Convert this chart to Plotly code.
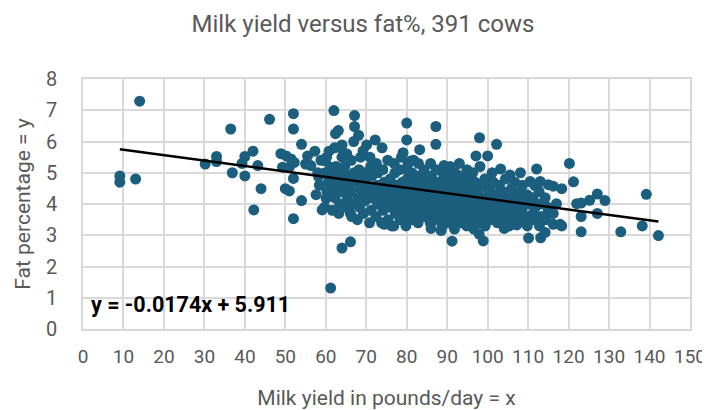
import plotly.graph_objects as go

# ---- outlying / readable points (milk yield lb/day, fat %) ----
edge_milk = [
    9.1, 9.1, 13.0, 14.0, 30.2, 33.0, 33.0, 36.5, 36.9, 39.3,
    40.0, 40.0, 42.0, 43.2, 44.0, 42.2, 46.1, 48.9, 49.3, 50.0,
    50.2, 51.0, 51.0, 51.4, 52.0, 52.0, 52.0, 52.0, 52.2, 54.0,
    54.0, 55.0, 55.5, 56.3, 57.3, 58.2, 59.1, 59.9, 60.1, 60.8,
    61.2, 61.2, 62.0, 62.4, 63.1, 63.2, 64.0, 64.4, 64.0, 66.1,
    66.1, 67.1, 67.1, 68.1, 70.1, 72.2, 79.1, 80.0, 80.0, 81.0,
    83.2, 86.0, 87.2, 87.2, 88.5, 89.2, 91.2, 93.0, 96.6, 97.1,
    97.9, 98.0, 98.9, 100.0, 102.2, 103.2, 104.1, 105.5, 107.2, 108.1,
    108.1, 110.1, 110.5, 111.3, 112.1, 113.0, 113.1, 114.2, 115.0, 115.0,
    116.2, 116.2, 116.2, 117.0, 117.9, 118.3, 118.3, 120.2, 121.2, 122.0,
    123.1, 123.1, 123.1, 125.2, 127.1, 127.1, 129.0, 132.9, 138.2, 139.2,
    142.2, 76.3, 74.5,
]
edge_fat = [
    4.90, 4.70, 4.80, 7.29, 5.28, 5.52, 5.36, 6.40, 5.00, 5.30,
    4.90, 5.52, 5.69, 5.23, 4.49, 3.81, 6.71, 5.61, 5.18, 4.49,
    5.54, 5.18, 4.42, 5.44, 6.89, 6.40, 4.82, 3.53, 5.33, 5.91,
    4.11, 5.28, 5.54, 5.23, 5.69, 4.88, 3.81, 5.38, 4.18, 5.69,
    5.18, 1.31, 6.99, 6.25, 6.35, 3.70, 5.89, 5.64, 2.59, 2.79,
    3.70, 6.83, 6.48, 6.20, 5.89, 6.05, 5.64, 6.59, 6.05, 5.38,
    5.74, 3.22, 6.48, 5.91, 3.15, 5.23, 2.81, 5.30, 3.20, 5.54,
    3.04, 6.12, 2.82, 5.54, 5.91, 5.12, 3.22, 4.93, 3.33, 5.00,
    3.50, 2.91, 4.72, 3.70, 5.12, 4.72, 2.92, 3.09, 4.62, 3.76,
    4.57, 3.70, 3.35, 4.01, 3.35, 4.49, 3.30, 5.30, 4.71, 4.01,
    4.03, 3.60, 3.11, 4.12, 4.32, 3.70, 4.11, 3.11, 3.30, 4.31,
    2.99, 3.30, 3.35,
]

# ---- dense central cloud (estimated column by column) ----
core_milk = [
    57.6, 58.4, 58.0, 58.8,
    59.7, 60.3, 60.6, 59.8, 60.2,
    61.6, 62.3, 62.0, 61.8, 62.5, 62.2,
    63.4, 63.8, 63.2, 63.6, 64.0,
    64.8, 65.3, 65.0, 65.5, 64.7, 65.2,
    66.4, 66.8, 66.2, 66.6, 67.0, 66.3, 66.9,
    67.8, 68.3, 68.0, 68.5, 67.9, 68.2, 68.6,
    69.3, 69.7, 69.4, 69.9, 69.6, 69.2,
    70.8, 71.2, 71.0, 70.7, 71.4, 71.1, 70.9,
    72.4, 72.8, 72.3, 72.6, 72.9, 72.5,
    73.8, 74.2, 74.0, 73.7, 74.4, 74.1, 73.9,
    75.4, 75.8, 75.2, 75.6, 75.9, 75.3,
    76.8, 77.2, 77.0, 76.7, 77.3, 77.1, 76.9,
    78.4, 78.8, 78.2, 78.6, 78.9, 78.3, 78.7,
    79.8, 80.2, 80.0, 79.7, 80.4, 80.1, 79.9, 80.3,
    81.4, 81.8, 81.2, 81.6, 81.9, 81.3, 81.7,
    82.8, 83.2, 83.0, 82.7, 83.4, 83.1, 82.9,
    84.4, 84.8, 84.2, 84.6, 84.9, 84.3,
    85.8, 86.2, 86.0, 85.7, 86.4, 86.1, 85.9,
    87.4, 87.8, 87.2, 87.6, 87.9, 87.3,
    88.8, 89.2, 89.0, 88.7, 89.4, 89.1, 88.9,
    90.4, 90.8, 90.2, 90.6, 90.9, 90.3, 90.7,
    91.8, 92.2, 92.0, 91.7, 92.4, 92.1, 91.9,
    93.4, 93.8, 93.2, 93.6, 93.9, 93.3,
    94.8, 95.2, 95.0, 94.7, 95.4, 95.1, 94.9,
    96.4, 96.8, 96.2, 96.6, 96.9, 96.3,
    97.8, 98.2, 98.0, 97.7, 98.4, 98.1,
    99.4, 99.8, 99.2, 99.6, 99.9, 99.3,
    100.8, 101.2, 101.0, 100.7, 101.4, 101.1,
    102.4, 102.8, 102.2, 102.6, 102.9,
    103.8, 104.2, 104.0, 103.7, 104.4,
    105.4, 105.8, 105.2, 105.6, 105.9,
    106.8, 107.2, 107.0, 106.7,
    108.4, 108.8, 108.2, 108.6,
    109.8, 110.2, 110.0, 109.7,
    111.4, 111.8, 111.2, 111.6,
    112.8, 113.2, 113.0, 112.7,
    114.4, 114.8, 114.2,
]
core_fat = [
    4.3, 4.6, 5.0, 5.4,
    3.9, 4.4, 4.7, 5.0, 5.5,
    3.8, 4.2, 4.5, 4.9, 5.2, 5.8,
    4.0, 4.4, 4.7, 5.0, 5.5,
    3.9, 4.2, 4.6, 4.9, 5.2, 5.6,
    3.6, 4.0, 4.4, 4.7, 5.0, 5.4, 6.0,
    3.5, 3.9, 4.2, 4.5, 4.8, 5.1, 5.5,
    3.7, 4.1, 4.4, 4.7, 5.0, 5.7,
    3.4, 3.8, 4.2, 4.5, 4.9, 5.2, 5.5,
    3.6, 4.0, 4.3, 4.6, 5.0, 5.3,
    3.4, 3.8, 4.1, 4.4, 4.7, 5.1, 5.8,
    3.5, 3.9, 4.2, 4.5, 4.8, 5.4,
    3.3, 3.7, 4.0, 4.3, 4.6, 5.0, 5.3,
    3.5, 3.8, 4.1, 4.4, 4.7, 5.1, 5.5,
    3.3, 3.6, 3.9, 4.2, 4.5, 4.8, 5.1, 5.3,
    3.5, 3.8, 4.1, 4.4, 4.7, 5.0, 5.4,
    3.4, 3.7, 4.0, 4.3, 4.6, 4.9, 5.3,
    3.6, 3.9, 4.2, 4.5, 4.8, 5.1,
    3.4, 3.7, 4.0, 4.3, 4.6, 4.9, 5.3,
    3.5, 3.8, 4.1, 4.4, 4.7, 5.1,
    3.3, 3.6, 3.9, 4.2, 4.5, 4.8, 5.0,
    3.4, 3.7, 4.0, 4.3, 4.6, 4.9, 5.2,
    3.2, 3.5, 3.8, 4.1, 4.4, 4.7, 5.0,
    3.4, 3.7, 4.0, 4.3, 4.6, 4.9,
    3.3, 3.6, 3.9, 4.2, 4.5, 4.8, 5.1,
    3.5, 3.8, 4.1, 4.4, 4.7, 5.0,
    3.4, 3.7, 4.0, 4.3, 4.6, 5.2,
    3.3, 3.6, 3.9, 4.2, 4.5, 4.8,
    3.5, 3.8, 4.1, 4.4, 4.7, 5.0,
    3.4, 3.7, 4.0, 4.3, 4.6,
    3.5, 3.8, 4.1, 4.4, 4.8,
    3.3, 3.6, 3.9, 4.2, 4.5,
    3.7, 4.0, 4.3, 4.7,
    3.8, 4.1, 4.4, 4.6,
    3.3, 3.6, 4.0, 4.3,
    3.5, 3.9, 4.2, 4.6,
    3.3, 3.6, 4.0, 4.4,
    3.5, 3.9, 4.2,
]

# Linear trendline shown on the chart
slope = -0.0174
intercept = 5.911

x_ticks = list(range(0, 151, 10))
y_ticks = list(range(0, 9, 1))

milk = edge_milk + core_milk
fat = edge_fat + core_fat

FONT = "Roboto, Arial, sans-serif"
GREY = "#595959"
GRID = "#d9d9d9"

fig = go.Figure()
fig.add_trace(go.Scatter(
    x=milk, y=fat, mode="markers",
    marker=dict(color="#1b5e7e", size=11, line=dict(width=0)),
    showlegend=False, hoverinfo="x+y",
))
tx = [min(milk), max(milk)]
fig.add_trace(go.Scatter(
    x=tx, y=[slope * v + intercept for v in tx], mode="lines",
    line=dict(color="black", width=2.5), showlegend=False, hoverinfo="skip",
))

fig.add_annotation(
    x=1.4, y=0.8, xref="x", yref="y", xanchor="left", yanchor="middle",
    text=f"y = {slope}x + {intercept}", showarrow=False,
    font=dict(family="Roboto, Arial, sans-serif", size=21.5, color="black", weight="bold"),
)

fig.update_layout(
    width=710, height=410,
    margin=dict(l=75, r=22, t=71, b=77),
    paper_bgcolor="white", plot_bgcolor="white",
    title=dict(text="Milk yield versus fat%, 391 cows", x=0.5, xanchor="center",
               y=0.962, yanchor="middle",
               font=dict(family=FONT, size=24, color=GREY)),
    font=dict(family=FONT, color=GREY),
)
fig.update_xaxes(
    range=[0, 150], tickvals=x_ticks, showgrid=True, gridcolor=GRID, gridwidth=1.5,
    zeroline=False, showline=True, linecolor=GRID, linewidth=1.5, mirror=True,
    tickfont=dict(family=FONT, size=19, color=GREY), ticklabelstandoff=9,
    title=dict(text="Milk yield in pounds/day = x", font=dict(family=FONT, size=21, color=GREY),
               standoff=24),
)
fig.update_yaxes(
    range=[0, 8], tickvals=y_ticks, showgrid=True, gridcolor=GRID, gridwidth=1.5,
    zeroline=False, showline=True, linecolor=GRID, linewidth=1.5, mirror=True,
    tickfont=dict(family=FONT, size=20, color=GREY), ticklabelstandoff=20,
    title=dict(text="Fat percentage = y", font=dict(family=FONT, size=21, color=GREY),
               standoff=10),
)

fig.write_html("out.html")
